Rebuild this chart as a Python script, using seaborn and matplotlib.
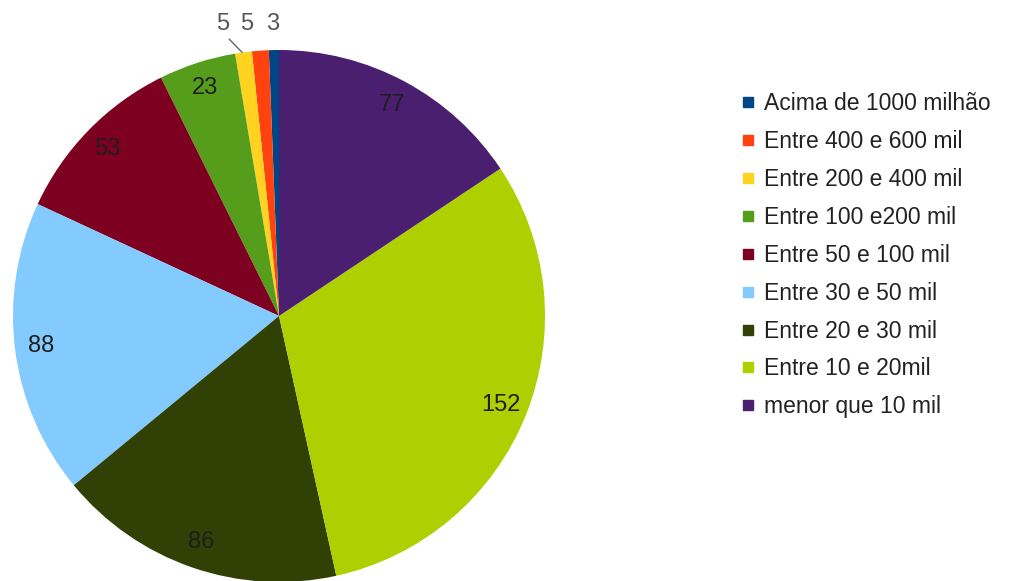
import matplotlib
matplotlib.use("Agg")
import matplotlib.pyplot as plt
import seaborn as sns
import numpy as np
from matplotlib.lines import Line2D

categories = ["Acima de 1000 milhão", "Entre 400 e 600 mil", "Entre 200 e 400 mil",
              "Entre 100 e200 mil", "Entre 50 e 100 mil", "Entre 30 e 50 mil",
              "Entre 20 e 30 mil", "Entre 10 e 20mil", "menor que 10 mil"]
values = [3, 5, 5, 23, 53, 88, 86, 152, 77]
colors = ["#004586", "#ff420e", "#ffd320", "#579d1c", "#7e0021",
          "#83caff", "#314004", "#aecf00", "#4b1f6f"]

sns.set_theme(style="white")
plt.rcParams['font.family'] = ['Liberation Sans', 'DejaVu Sans']
palette = sns.color_palette(colors)

fig = plt.figure(figsize=(10.29, 5.81), dpi=100)
ax = fig.add_axes([13/1029, -1/581, 532/1029, 532/581])
wedges, _ = ax.pie(values, colors=palette, startangle=90, counterclock=True,
                   radius=1.0, wedgeprops=dict(linewidth=0))
ax.set_xlim(-1, 1)
ax.set_ylim(-1, 1)
ax.set_aspect('equal')
ax.axis('off')

small_shift = {0: -0.005, 1: -0.045, 2: -0.066}
for i, (w, v) in enumerate(zip(wedges, values)):
    ang = np.deg2rad((w.theta1 + w.theta2) / 2)
    if v >= 20:
        r = 0.9
        ax.text(r * np.cos(ang), r * np.sin(ang), str(v), ha='center', va='center',
                fontsize=17, color='#1e1e1e')
    else:
        r = 1.08
        x = r * np.cos(ang) + small_shift.get(i, 0.0)
        y = 1.098
        ax.text(x, y, str(v), ha='center', va='center', fontsize=17,
                color='#555555', clip_on=False)
        if i == 2:
            ax.plot([np.cos(ang) - 0.005, x + 0.023], [np.sin(ang), 1.041],
                    color='#666666', lw=1.0, clip_on=False)

handles = [Line2D([0], [0], marker='s', linestyle='none', markersize=7.5,
                  markerfacecolor=c, markeredgecolor=c) for c in palette]
fig.legend(handles, categories, loc='upper left', bbox_to_anchor=(733/1029, 1 - 83/581),
           frameon=False, fontsize=16.5, labelspacing=0.65, handlelength=0.5,
           handletextpad=0.45, borderaxespad=0, labelcolor='#222222')

fig.savefig("out.png", dpi=100)
